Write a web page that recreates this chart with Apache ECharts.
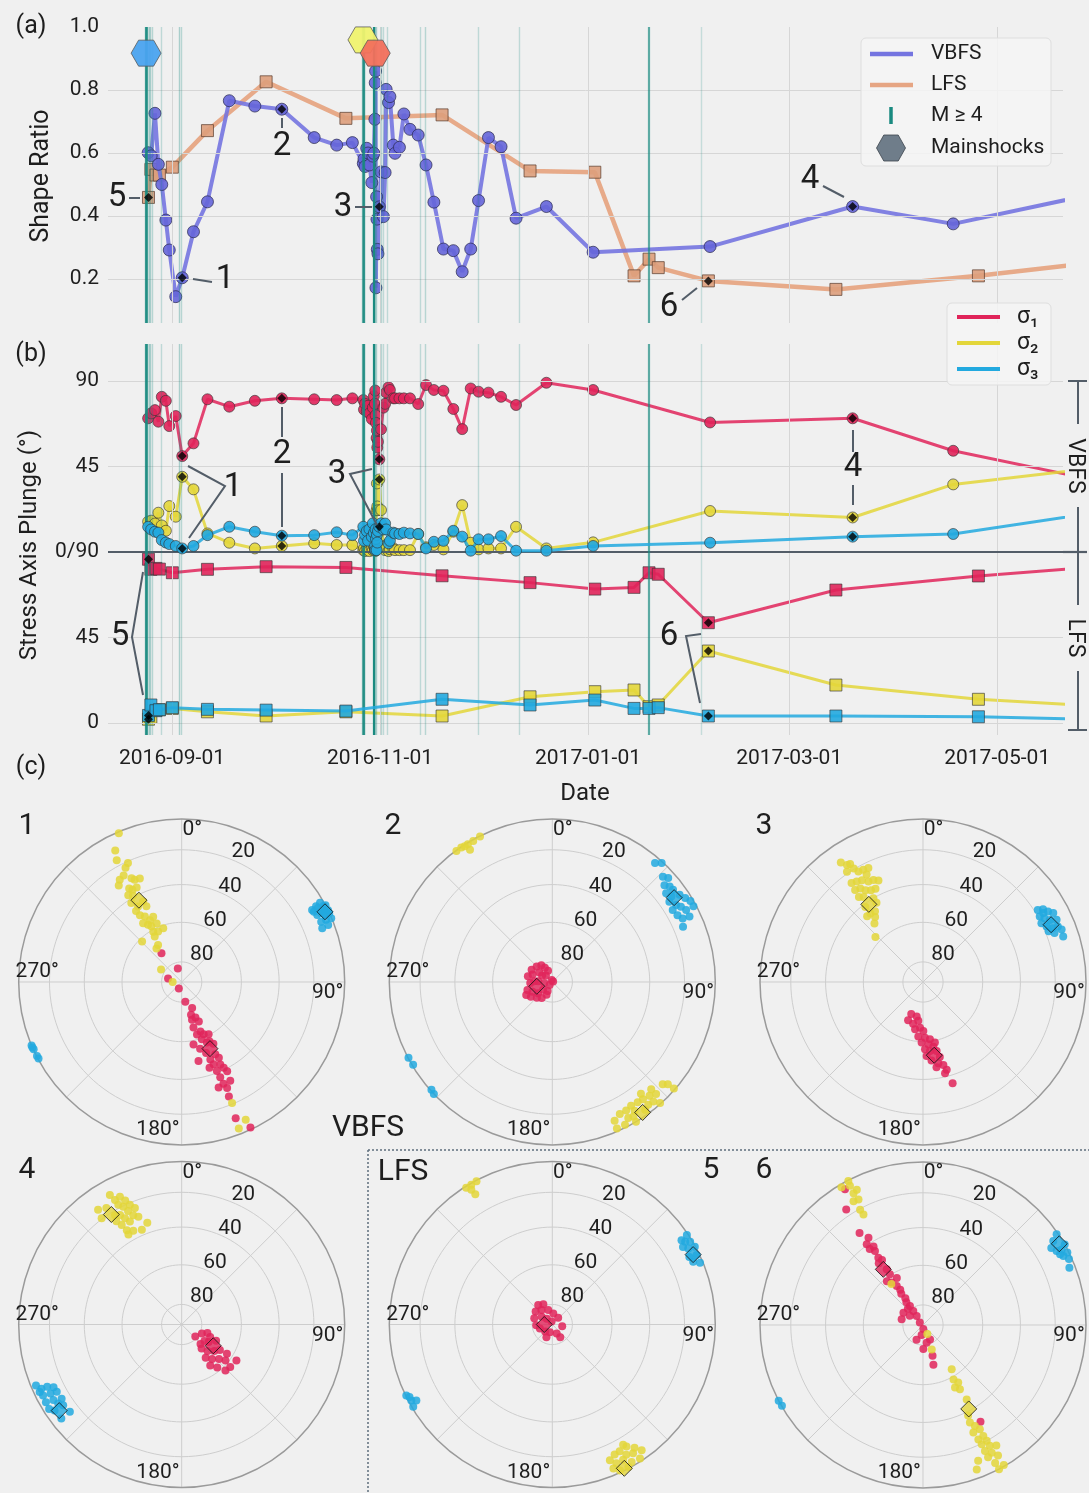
<!DOCTYPE html>
<html><head><meta charset="utf-8">
<script src="https://cdn.jsdelivr.net/npm/echarts@6/dist/echarts.min.js"></script>
<style>html,body{margin:0;padding:0;background:#f0f0f0;}#c{width:1089px;height:1493px;}</style>
</head><body><div id="c"></div>
<script>
// ---------------- DATA ----------------
// x values: days since 2016-09-01
const dateTicks = ['2016-09-01','2016-11-01','2017-01-01','2017-03-01','2017-05-01'];
const vbfsDay = [-7.0,-6.1,-5.0,-4.0,-3.0,-1.8,-0.8,1.1,3.0,6.3,10.4,
  16.8,24.3,32.2,41.7,48.3,52.9,
  56.1,56.3,56.6,57.1,57.5,57.9,58.6,58.9,59.2,59.5,59.6,59.7,59.8,60.0,60.1,60.2,60.4,60.8,61.3,62.0,62.5,62.8,63.5,63.9,64.9,65.4,66.7,
  68.0,69.8,72.2,74.5,76.8,79.6,82.5,85.1,87.6,89.9,92.8,96.5,100.9,109.8,123.5,157.8,199.6,229.1,270];
const vbfsShape = [0.601,0.591,0.726,0.564,0.50,0.387,0.292,0.144,0.204,0.350,0.445,
  0.766,0.749,0.739,0.649,0.625,0.633,
  0.567,0.581,0.557,0.615,0.600,0.562,0.506,0.590,0.599,0.707,0.823,0.860,0.172,0.461,0.390,0.294,0.280,0.429,0.540,0.398,0.538,0.802,0.760,0.779,0.625,0.599,0.618,
  0.724,0.675,0.657,0.562,0.444,0.295,0.290,0.223,0.295,0.449,0.649,0.620,0.393,0.430,0.285,0.303,0.430,0.375,0.469];
const vbfsS1 = [70.4,73.0,74.7,68.6,81.7,79.6,66.3,71.6,50.5,57.2,80.4,
  76.5,79.6,80.9,80.4,80.0,80.9,
  80,75,78,74,77,73,70,76,82,78,85,72,68,60,64,55,58,48.8,64.6,76,78,84,86.7,85.3,80.9,80.9,80.9,
  80.9,80.9,77.9,87.9,85.3,84.9,75.3,64.7,86.1,84.4,83.9,81.7,77.4,89.1,85.3,68.2,70.4,53.3,38.1];
const vbfsS2 = [16.0,16.5,15.0,20.7,14.0,11.2,24.2,18.6,39.6,33.0,9.8,
  4.9,1.9,3.2,4.6,3.7,3.7,
  1,2,0.5,1.5,1,0.5,2,1,3,1,0.5,2,1,22,36.1,24,22,38.2,22.1,3,1,2,0.5,1.5,2,1,1,
  1,1,9.5,2.5,3.7,1.4,10.7,24.7,4.9,1.4,1.9,1.9,13.3,1.9,5.1,21.6,18.2,35.6,44.1];
const vbfsS3 = [13.3,11.9,10.7,10.2,6.3,5.0,4.2,3.2,1.9,3.2,8.9,
  13.3,10.7,8.6,8.9,10.4,8.9,
  13.3,5.9,9,11,6,12,8,15.1,10,3,1,12,7,1,9,5,11,13.3,15.1,11.9,15,11.9,4.6,5.9,10.2,9.8,9.5,
  10.2,9.8,9.5,1.9,5.4,5.9,11.2,8.1,0.7,6.7,6.7,8.4,0.7,0.7,3.2,4.9,8.1,9.5,20.5];
const lfsDay   = [-6.9,-6.2,-4.7,-3.7,0.1,10.4,27.6,51.0,79.2,105,124,135.5,139.9,142.6,157.3,194.7,236.5,272];
const lfsShape = [0.459,0.548,0.530,0.530,0.555,0.671,0.826,0.710,0.721,0.543,0.539,0.210,0.263,0.236,0.194,0.167,0.210,0.254];
const lfsS1 = [86.2,80.9,81.4,81.0,79.1,80.9,82.3,81.9,77.5,73.9,70.5,71.4,79.1,78.3,52.8,70.0,77.4,82.4];
const lfsS2 = [2.0,3.0,6.8,7.0,7.7,5.9,3.7,5.9,3.7,13.8,16.5,17.4,8.6,9.5,37.9,20.0,12.5,8.8];
const lfsS3 = [4.0,9.5,6.5,7.0,8.1,7.2,6.8,6.3,12.5,9.5,12.1,7.7,7.7,8.1,3.7,3.7,3.3,1.8];
const vbfsSel = [8,13,34,60];   // periods 1-4
const lfsSel = [0,14];          // periods 5-6
// M>=4 events (day, estimated magnitude)
const m4Day = [-7.77,-7.48,-7.18,-6.74,-6.30,-5.87,-3.23,2.2,2.64,55.9,56.2,56.5,59.2,59.5,59.8,61.3,61.9,63.1,72.8,74.2,89.8,101.8,139.7,155.3];
const m4Mag = [6.0,5.3,4.7,4.4,4.3,4.2,4.1,4.4,4.2,5.4,5.9,4.5,6.5,4.5,4.3,4.2,4.1,4.1,4.1,4.2,4.1,4.1,5.5,4.0];
// Mainshocks (day)
const mainDay = [-7.6,56.0,59.6];
const mainName = ['Amatrice','Visso','Norcia'];
// Stereonet data [trend, plunge] per period
const st1S1=[[324.8,72.5],[344,83],[284,83],[204,86.5],[169.7,80],[158.2,76],[164.1,73],[158.8,71],[164.7,70.5],[156.5,68.5],[165.5,66.5],[159.2,63.5],[163.8,62.5],[157.2,61.5],[152.7,60.5],[160.6,59.5],[157.4,57],[152.8,55],[164.6,55],[155.1,49.5],[159.7,48],[153.9,47],[154.9,43.5],[158.8,45],[153.9,41],[158.4,41],[153,38.5],[158,37],[153.8,33],[157.7,33],[156.8,30],[160.7,32],[157.6,25],[158.4,11],[154.7,1.5],[168,49],[169.3,58],[161,52],[155,57],[162,44]];
const st1S2=[[337.1,1],[333.2,10.5],[331.9,16.5],[333.8,23],[335.7,21],[331.4,26.5],[328.8,27.5],[326.9,30],[334.2,30],[335.3,31.5],[338,32],[330.7,34.5],[331.9,36],[334.5,36],[328.4,37.5],[330.6,39],[327.5,42],[330,45.5],[334.4,44.5],[335,47.5],[327.3,47],[328,50],[330.6,52],[332.8,55],[336.4,54],[326.7,54.5],[329.5,56.5],[331.4,58],[336.8,58],[330.5,61],[335,62],[341,61.5],[329.3,63.5],[327.5,68],[323.1,69],[315.7,61.5],[301,78],[270,85.5],[157.4,20.7],[155.1,7.5],[158.7,4]];
const st1S3=[[61.1,9.5],[60.6,6],[60.2,2.5],[61.8,1.5],[61.9,0],[63.7,8],[63.7,5],[64.8,3.5],[65,0.2],[66.6,7.5],[66.7,4],[66.9,0.3],[69.1,8.5],[68.7,4],[62,9],[63.2,2],[61.5,5.5],[63.9,0],[247.1,0],[245.6,0.3],[242.9,0.3],[241.9,0.5],[246.3,0]];
const st1Mean=[[157,53.4],[332.4,42.8],[63.9,2.4]];
const st2S1=[[300.8,78],[315,79],[327,80],[332.4,82],[339.4,84],[315,85.5],[344,89],[56,89.5],[283.3,77.5],[291.1,79.5],[306.1,82],[302.2,84],[267.4,79],[272.2,81],[273,83],[262,86],[221.2,88],[252.3,77],[243.8,79],[231.8,81],[229.6,84],[204.1,83],[235.3,77],[224.4,79],[243.7,75.5],[213.7,80.5],[207.6,85]];
const st2S2=[[323.8,0.5],[325.9,0.5],[328.5,1],[330.7,1],[333.6,0.3],[328.1,5],[327.2,1],[155.8,7.5],[152.9,10],[153,2],[150.1,10],[147.5,11],[148.9,4],[144.6,10.5],[142.3,10],[139.5,9],[142,5],[139.8,4.5],[137.2,7],[132.8,8.5],[131.5,6],[131.2,1],[149.1,0],[150.8,5],[144,3.5],[138.3,0.7],[147.4,7],[156.2,2],[141.6,13.5],[137.3,11.5]];
const st2S3=[[40.8,4],[42.6,1],[46.4,7],[48.1,5],[49.2,10],[50.9,8],[52.6,7.5],[52.1,12.5],[54.3,11],[55.6,6],[57.7,4],[59.6,2],[58.1,11.5],[59.7,9.5],[61.7,7.5],[59.1,15],[61.9,14],[64,12],[64.5,7.5],[67.1,14],[61.8,2],[55.6,14],[242.2,0.3],[239.3,0.8],[228.3,0.8],[226.6,0]];
const st2Mean=[[254.5,82],[145.3,3],[55.3,10]];
const st3S1=[[200.2,73],[201.3,69.5],[193.3,68.5],[186.9,70.5],[189.5,66],[183.7,67],[179.6,65.5],[184.9,62.5],[178,62],[173.1,61],[181.3,59.5],[175.1,58.5],[170.9,57],[178.3,56],[174.2,55],[168.8,54.5],[177.2,52.5],[167.4,51],[173.8,50],[169.3,48],[166.2,46.5],[171,46],[164.9,43.5],[166.4,42],[163.7,35.5],[190.4,72.5],[168.9,59]];
const st3S2=[[325.5,12],[325.4,19],[328.3,16],[328.6,19.5],[329.7,22.5],[332,23],[332.3,26.5],[324.2,26],[326.6,27],[329.1,28],[331.5,30.5],[334.1,31],[336.3,32.5],[323.6,30.5],[326.2,31.5],[327.9,34],[330.5,35.5],[333,36],[323,35],[325.1,36.5],[329.4,40],[329.6,43],[322.5,41.5],[322.5,46],[325.8,46.5],[319.7,46],[320.3,51.5],[323.6,49],[313.4,57],[327,15.5],[334.4,23.5]];
const st3S3=[[57.9,18],[58.8,15],[60.6,13],[62.1,10.5],[60.7,19],[62.3,17],[63.9,14.5],[65,10.5],[63.6,20],[65.8,18],[67.5,15],[67.6,11.5],[68,18],[69.6,15],[72,10.5],[69.3,10],[60.2,16]];
const st3Mean=[[171.3,52.5],[325.1,41.5],[65.9,15]];
const st4S1=[[131.2,81],[114.2,79],[108.4,76.5],[125.9,76],[123,74],[115.2,71],[140.2,74.5],[135.8,71.5],[129,69],[123.8,67],[122.8,63],[144.2,69.5],[138.6,67],[132.8,64.5],[129.5,61.5],[145.1,65],[140.4,62],[136.5,58],[123.3,57],[131.2,57.5],[136,76.5],[113.5,74.5]];
const st4S2=[[323.9,14],[323,19.5],[331,10],[331.8,14.5],[334.2,14],[335.5,17.5],[332.1,18],[333.6,20.5],[336.6,21],[338.1,24],[334.7,24],[336.1,27.5],[338.1,29.5],[330.6,24],[331.9,27],[327.7,26],[328.9,29.5],[329.8,33.5],[332.7,35.5],[337.2,37],[341.3,34.5],[333.3,30],[329.4,36],[327.1,16],[328.6,22.5]];
const st4S3=[[247.3,3.5],[245.4,6],[245.2,10],[243.9,13.5],[242.9,5],[242.3,10],[241.7,14],[240.2,4.5],[239.5,9.5],[238.3,14.5],[237.5,4],[235.9,6.5],[235.7,13],[232,14],[232,7],[244.6,4],[237.4,11]];
const st4Mean=[[124,71],[327.4,21],[234.9,9]];
const st5S1=[[324.1,78],[336.1,79],[307.8,79.5],[323.3,81],[344.4,82.5],[5.2,84.5],[289.1,80.5],[305.7,83.5],[316.6,86],[40.6,85.5],[267.6,82],[252,83.5],[225,85],[197.6,86],[154.3,85],[100,85],[148.1,82.5],[204.7,83],[346,88.5]];
const st5S2=[[327.8,1],[329.9,1],[332.1,0.7],[329.4,8],[329,4],[157,10.5],[154.4,12.5],[152,13],[148.7,13.5],[150.4,9],[147.9,7.5],[146.8,2],[155.2,7],[152.4,7],[150,3],[157,4.5],[155.1,1.5],[146.3,10],[144.6,6],[149.5,15.5],[151.9,1]];
const st5S3=[[56.9,6],[56.4,1],[59,1.5],[59.3,7.5],[60.8,5],[61.4,0.5],[63.8,7],[64.3,2],[66,6],[67.3,2],[58.1,4.5],[244.1,0.5],[241.7,2],[240.8,5],[239.4,1],[243.1,2]];
const st5Mean=[[270,86],[153.4,1.5],[63.6,4]];
const st6S1=[[326.4,16],[330.1,4.5],[325.4,32],[328,37],[325.1,39.5],[327.8,42.5],[327,45],[326.4,49],[327.8,51],[326.9,56.5],[326.9,59.5],[330.9,63],[320.5,61.5],[323.5,63.5],[326,66.5],[327.2,69],[325.2,71],[326.6,74],[323.8,76],[325.6,78.5],[316.9,79],[325.4,81.5],[302.1,78.5],[285,79],[324.9,84.5],[308,88],[175.6,88],[203.8,82],[188.1,85],[154,82],[179.2,78],[162.7,74],[165.3,69.5],[168.3,81],[149.3,31.5],[304.7,82],[324.4,51.5],[325,42.5]];
const st6S2=[[329.4,2],[332.6,0.5],[332.3,4],[332.2,9.5],[333.9,8.5],[330.7,14],[332.8,14.5],[331.4,20.5],[331.7,24],[322.4,64],[154.4,85],[160.4,77],[147.1,63.5],[150.8,58.5],[148.5,56],[150.1,52.5],[152.9,54.5],[149.6,46],[154.3,34],[152.8,31],[151.4,28],[154.9,28],[151.5,23.5],[154.2,23],[151.2,20],[153.8,19.5],[151,16.5],[148.7,14.5],[153.8,15],[151.7,12],[150.1,8.5],[153.8,10.5],[152.4,5],[150,1],[157.9,11],[159.6,6],[152.2,0],[153.5,38]];
const st6S3=[[55.8,1],[57.2,5.5],[59,9],[61,7],[61.4,3.5],[63.3,1],[63.8,4.5],[65.7,2],[68.6,4],[62.7,6],[60.4,0],[242.3,0],[240.2,0.3]];
const st6Mean=[[324.5,55.5],[151.4,41],[59.2,3]];
const ringPlunges = [20,40,60,80];

// ---------------- STYLE / LAYOUT ----------------
const FONT = 'Roboto, "DejaVu Sans", sans-serif';
const TXT = '#1e1e1e';
const C1 = '#e0245a', C2 = '#e3d63a', C3 = '#22a9df';
const CV = '#7474e0', CL = '#e6a583', TEAL = '#1a8a80', DARK = '#535d68';
const X0 = 108, XW = 955;
const dayOf = s => (Date.UTC(+s.slice(0,4), +s.slice(5,7)-1, +s.slice(8,10)) - Date.UTC(2016,8,1)) / 86400000;
const tickDays = dateTicks.map(dayOf);
const XMIN = -18.77, XMAX = 261.3;
const eqR = p => Math.SQRT2 * Math.sin((90 - p) / 2 * Math.PI / 180);
const pairs = (xs, ys, f) => xs.map((x, i) => [x, f ? f(ys[i]) : ys[i]]);
const lfsY = v => v - 90;

const stSets = [
  [st1S1, st1S2, st1S3, st1Mean], [st2S1, st2S2, st2S3, st2Mean], [st3S1, st3S2, st3S3, st3Mean],
  [st4S1, st4S2, st4S3, st4Mean], [st5S1, st5S2, st5S3, st5Mean], [st6S1, st6S2, st6S3, st6Mean]];
const centers = [[181.7,982],[552.3,982],[923,982],[181.7,1324.5],[552.3,1324.5],[923,1325]];
const RAD = 163;

const chart = echarts.init(document.getElementById('c'), null, {renderer: 'canvas'});
const series = [];
const gridLineStyle = {color: '#d6d6d6', width: 1, type: 'solid'};
function carrier(xi, yi, markData, z) {
  return {type: 'line', xAxisIndex: xi, yAxisIndex: yi, data: [[0, xi === 0 ? 0.5 : 0]], symbol: 'none',
    lineStyle: {opacity: 0}, silent: true, z: z,
    markLine: {silent: true, symbol: 'none', label: {show: false}, animation: false, data: markData}};
}
const m4Alpha = m => Math.min(1, 0.2 + (m - 4) * 0.33);
const m4Lines = m4Day.map((d, i) => ({xAxis: d, lineStyle: {color: TEAL, opacity: m4Alpha(m4Mag[i]), width: m4Mag[i] >= 5 ? 2.2 : 1.4, type: 'solid'}}));

// Panel (a)
series.push(carrier(0, 0, [...tickDays.map(d => ({xAxis: d, lineStyle: gridLineStyle})),
  ...[0.2,0.4,0.6,0.8].map(v => ({yAxis: v, lineStyle: gridLineStyle}))], 1));
series.push(carrier(0, 0, m4Lines, 2));
series.push({name: 'LFS', type: 'line', xAxisIndex: 0, yAxisIndex: 0, data: pairs(lfsDay, lfsShape), z: 3,
  symbol: 'rect', symbolSize: 12, lineStyle: {color: CL, width: 4.5, opacity: 0.95},
  itemStyle: {color: '#dd9f7c', borderColor: '#5a3e2e', borderWidth: 0.8, opacity: 0.9}});
series.push({name: 'VBFS', type: 'line', xAxisIndex: 0, yAxisIndex: 0, data: pairs(vbfsDay, vbfsShape), z: 4,
  symbol: 'circle', symbolSize: 12, lineStyle: {color: CV, width: 4, opacity: 0.9},
  itemStyle: {color: '#6565d9', borderColor: '#2a2a50', borderWidth: 0.8, opacity: 0.9}});
series.push({type: 'scatter', xAxisIndex: 0, yAxisIndex: 0, z: 6, symbol: 'diamond', symbolSize: 9,
  itemStyle: {color: '#000'}, silent: true,
  data: [...vbfsSel.map(i => [vbfsDay[i], vbfsShape[i]]), ...lfsSel.map(i => [lfsDay[i], lfsShape[i]])]});
const hexPath = 'path://M0 866L500 0L1500 0L2000 866L1500 1732L500 1732Z';
const mainColors = ['#4aa3ef', '#eff26e', '#f2705c'];
const mainY = [0.917, 0.959, 0.917];
series.push({type: 'scatter', xAxisIndex: 0, yAxisIndex: 0, z: 7, symbol: hexPath, symbolSize: [30, 26],
  silent: true, data: mainDay.map((d, i) => ({value: [d, mainY[i]], name: mainName[i],
    itemStyle: {color: mainColors[i], borderColor: '#555', borderWidth: 0.8, opacity: 0.95}}))});

// Panel (b)
series.push(carrier(1, 1, [...tickDays.map(d => ({xAxis: d, lineStyle: gridLineStyle})),
  ...[90,45,-45,-90].map(v => ({yAxis: v, lineStyle: gridLineStyle})),
  {yAxis: 0, lineStyle: {color: DARK, width: 2.2, type: 'solid'}}], 1));
series.push(carrier(1, 1, m4Lines, 2));
const sigCols = [C1, C2, C3];
[vbfsS1, vbfsS2, vbfsS3].forEach((arr, k) => {
  series.push({name: ['σ₁','σ₂','σ₃'][k], type: 'line', xAxisIndex: 1, yAxisIndex: 1, z: 3 + k,
    data: pairs(vbfsDay, arr), symbol: 'circle', symbolSize: 11,
    lineStyle: {color: sigCols[k], width: 3, opacity: 0.85},
    itemStyle: {color: sigCols[k], borderColor: '#333', borderWidth: 0.7, opacity: 0.9}});
});
[lfsS1, lfsS2, lfsS3].forEach((arr, k) => {
  series.push({type: 'line', xAxisIndex: 1, yAxisIndex: 1, z: 3 + k,
    data: pairs(lfsDay, arr, lfsY), symbol: 'rect', symbolSize: 12,
    lineStyle: {color: sigCols[k], width: 3, opacity: 0.85},
    itemStyle: {color: sigCols[k], borderColor: '#333', borderWidth: 0.7, opacity: 0.9}});
});
const selB = [];
[vbfsS1, vbfsS2, vbfsS3].forEach(arr => vbfsSel.forEach(i => selB.push([vbfsDay[i], arr[i]])));
[lfsS1, lfsS2, lfsS3].forEach(arr => lfsSel.forEach(i => selB.push([lfsDay[i], lfsY(arr[i])])));
series.push({type: 'scatter', xAxisIndex: 1, yAxisIndex: 1, z: 8, symbol: 'diamond', symbolSize: 9,
  itemStyle: {color: '#000'}, silent: true, data: selB});

// Panel (c) polar stereonets
const ringAngles = [];
for (let a = 0; a <= 360; a += 3) ringAngles.push(a);
stSets.forEach((set, pi) => {
  ringPlunges.forEach(p => series.push({type: 'line', coordinateSystem: 'polar', polarIndex: pi, silent: true,
    symbol: 'none', z: 1, lineStyle: {color: '#cdcdcd', width: 1}, data: ringAngles.map(a => [eqR(p), a])}));
  [0, 1, 2].forEach(k => series.push({type: 'scatter', coordinateSystem: 'polar', polarIndex: pi, z: 3 + k,
    symbolSize: 8, itemStyle: {color: sigCols[k], opacity: 0.85},
    data: set[k].map(([t, p]) => [eqR(p), t])}));
  series.push({type: 'scatter', coordinateSystem: 'polar', polarIndex: pi, z: 8, symbol: 'diamond', symbolSize: 16,
    data: set[3].map(([t, p], k) => ({value: [eqR(p), t], itemStyle: {color: sigCols[k], borderColor: '#111', borderWidth: 1}}))});
});

// ---------------- GRAPHICS (titles, legends, annotations) ----------------
const G = [];
function T(x, y, s, size, o = {}) {
  G.push({type: 'text', x, y, z: 100, rotation: o.rot || 0, silent: true,
    style: {text: s, fill: o.fill || TXT, fontSize: size, fontFamily: FONT, fontWeight: o.w || 'normal',
      align: o.align || 'center', verticalAlign: 'middle', textAlign: o.align || 'center', textVerticalAlign: 'middle'}});
}
function L(pts, o = {}) {
  G.push({type: 'polyline', z: 100, silent: true, shape: {points: pts},
    style: {stroke: o.stroke || DARK, lineWidth: o.w || 2, fill: 'none', lineDash: o.dash || null}});
}
T(31, 27, '(a)', 25); T(31, 355, '(b)', 25); T(31, 768, '(c)', 25);
T(42, 176, 'Shape Ratio', 25, {rot: Math.PI / 2});
T(30, 545, 'Stress Axis Plunge (°)', 24, {rot: Math.PI / 2});
T(585, 794, 'Date', 24);
// legend (a)
G.push({type: 'rect', z: 99, silent: true, shape: {x: 861, y: 38, width: 190, height: 128, r: 5},
  style: {fill: 'rgba(244,244,244,0.85)', stroke: '#dedede', lineWidth: 1}});
L([[870, 54], [913, 54]], {stroke: CV, w: 4.5});
L([[870, 85], [913, 85]], {stroke: CL, w: 4.5});
L([[891, 107], [891, 124]], {stroke: TEAL, w: 3.5});
G.push({type: 'polygon', z: 100, silent: true, shape: {points: [[876.5,148],[883.8,135],[898.2,135],[905.5,148],[898.2,161],[883.8,161]]},
  style: {fill: '#6f7d8a', stroke: '#3c444c', lineWidth: 0.8}});
T(931, 54, 'VBFS', 21, {align: 'left'}); T(931, 85, 'LFS', 21, {align: 'left'});
T(931, 116, 'M ≥ 4', 21, {align: 'left'}); T(931, 148, 'Mainshocks', 21, {align: 'left'});
// legend (b)
G.push({type: 'rect', z: 99, silent: true, shape: {x: 947, y: 303, width: 104, height: 82, r: 5},
  style: {fill: 'rgba(244,244,244,0.85)', stroke: '#dedede', lineWidth: 1}});
[[317, C1, 'σ₁'], [343, C2, 'σ₂'], [369, C3, 'σ₃']].forEach(([y, c, s]) => {
  L([[957, y], [1000, y]], {stroke: c, w: 4}); T(1017, y, s, 23, {align: 'left'});
});
// annotations (a)
const AF = 33;
T(117, 198, '5', AF); L([[129, 198], [140, 198]]);
T(225, 280, '1', AF); L([[193, 279], [212, 282]]);
T(282, 147, '2', AF); L([[282, 118], [282, 128]]);
T(343, 208, '3', AF); L([[355, 207], [372, 207]]);
T(810, 180, '4', AF); L([[823, 186], [844, 197]]);
T(669, 308, '6', AF); L([[682, 300], [697, 288]]);
// annotations (b)
T(233, 488, '1', AF); L([[188, 466], [225, 486], [189, 538]]);
T(282, 455, '2', AF); L([[282, 407], [282, 437]]); L([[282, 473], [282, 527]]);
T(337, 475, '3', AF); L([[372, 469], [350, 474], [377, 525]]);
T(853, 468, '4', AF); L([[853, 430], [853, 452]]); L([[853, 485], [853, 505]]);
T(120, 637, '5', AF); L([[143, 572], [132, 637], [143, 695]]);
T(669, 637, '6', AF); L([[701, 634], [686, 636], [700, 703]]);
// right bracket VBFS / LFS
L([[1068, 381], [1087, 381]]); L([[1078, 381], [1078, 424]]);
T(1075, 466, 'VBFS', 23, {rot: -Math.PI / 2});
L([[1078, 507], [1078, 552]]); L([[1063, 552], [1087, 552]], {w: 2.2});
L([[1078, 552], [1078, 605]]);
T(1075, 638, 'LFS', 23, {rot: -Math.PI / 2});
L([[1078, 671], [1078, 730]]); L([[1068, 730], [1087, 730]]);
// panel (c) labels
const titlePos = [[27, 826], [393, 826], [764, 826], [27, 1170], [711, 1170], [764, 1170]];
titlePos.forEach((p, i) => T(p[0], p[1], String(i + 1), 30));
T(368, 1128, 'VBFS', 30); T(403, 1172, 'LFS', 30);
L([[368, 1150], [1089, 1150]], {stroke: '#5e6d7c', w: 1.5, dash: [2, 2]});
L([[368, 1150], [368, 1493]], {stroke: '#5e6d7c', w: 1.5, dash: [2, 2]});
const angLab = [['0°', 10.5, -152], ['90°', 146, 11], ['180°', -23.7, 148], ['270°', -144.5, -10]];
const ringLab = [['20', 61.6, -130], ['40', 48.3, -95.7], ['60', 33.3, -61.7], ['80', 20, -27.7]];
centers.forEach(c => {
  angLab.forEach(([s, dx, dy]) => T(c[0] + dx, c[1] + dy, s, 21));
  ringLab.forEach(([s, dx, dy]) => T(c[0] + dx, c[1] + dy, s, 21));
});

// ---------------- OPTION ----------------
const hidden = {axisLine: {show: false}, axisTick: {show: false}, splitLine: {show: false}};
const option = {
  backgroundColor: '#f0f0f0',
  animation: false,
  textStyle: {fontFamily: FONT, color: TXT},
  grid: [{left: X0, top: 27, width: XW, height: 296}, {left: X0, top: 344, width: XW, height: 391}],
  xAxis: [
    {gridIndex: 0, type: 'value', min: XMIN, max: XMAX, ...hidden, axisLabel: {show: false}},
    {gridIndex: 1, type: 'value', min: XMIN, max: XMAX, ...hidden,
      axisLabel: {customValues: tickDays, fontSize: 21, color: TXT, margin: 13, fontFamily: FONT,
        formatter: v => dateTicks[tickDays.findIndex(t => Math.abs(t - v) < 0.01)] || ''}}
  ],
  yAxis: [
    {gridIndex: 0, type: 'value', min: 0.0603, max: 1.0, ...hidden,
      axisLabel: {customValues: [0.2, 0.4, 0.6, 0.8, 1.0], fontSize: 21, color: TXT, margin: 9, fontFamily: FONT,
        formatter: v => v.toFixed(1)}},
    {gridIndex: 1, type: 'value', min: -96.3, max: 109.5, ...hidden,
      axisLabel: {customValues: [-90, -45, 0, 45, 90], fontSize: 21, color: TXT, margin: 9, fontFamily: FONT,
        formatter: v => v > 0 ? String(v) : (v === 0 ? '0/90' : String(v + 90))}}
  ],
  polar: centers.map(c => ({center: c, radius: RAD})),
  angleAxis: centers.map((c, i) => ({polarIndex: i, type: 'value', min: 0, max: 360, interval: 45,
    startAngle: 90, clockwise: true, axisLine: {lineStyle: {color: '#9a9a9a', width: 1.5}},
    axisTick: {show: false}, axisLabel: {show: false}, splitLine: {show: true, lineStyle: {color: '#cdcdcd', width: 1}}})),
  radiusAxis: centers.map((c, i) => ({polarIndex: i, type: 'value', min: 0, max: 1,
    axisLine: {show: false}, axisTick: {show: false}, axisLabel: {show: false}, splitLine: {show: false}})),
  series: series,
  graphic: G
};
chart.setOption(option);
</script></body></html>
